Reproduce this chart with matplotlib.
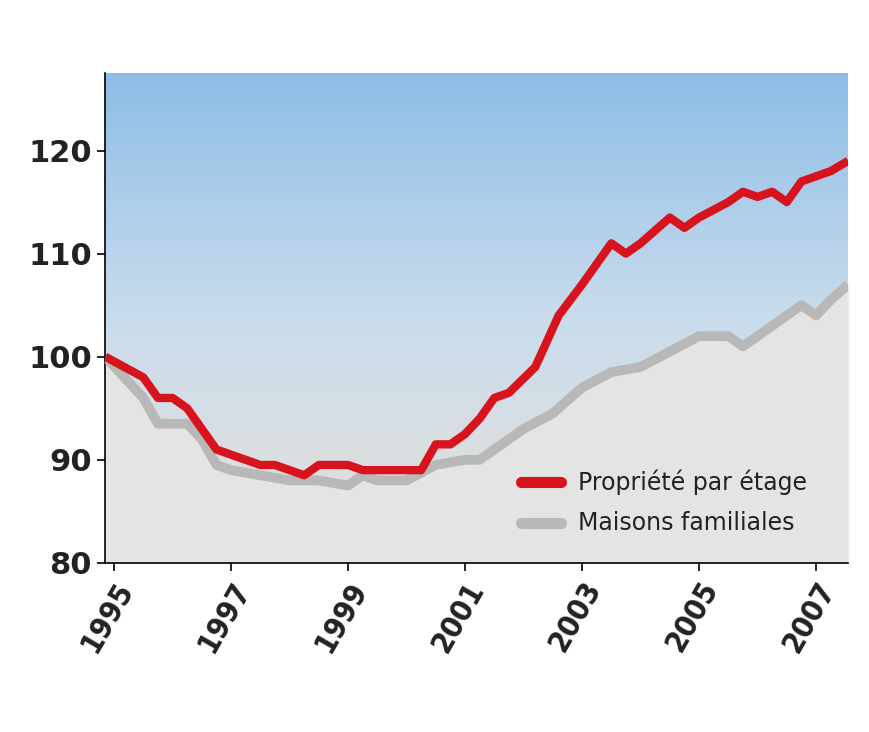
import numpy as np
import matplotlib
matplotlib.use("Agg")
import matplotlib.pyplot as plt

plt.rcParams['font.family'] = ['DejaVu Sans']

# quarterly index values, 1995 = 100
red_x = [1994.85, 1995.5, 1995.75, 1996.0, 1996.25, 1996.5, 1996.75, 1997.0, 1997.5, 1997.75,
         1998.0, 1998.25, 1998.5, 1998.75, 1999.0, 1999.25, 1999.5, 1999.75, 2000.0, 2000.25,
         2000.5, 2000.75, 2001.0, 2001.25, 2001.5, 2001.75, 2002.2, 2002.6, 2003.0, 2003.5,
         2003.75, 2004.0, 2004.5, 2004.75, 2005.0, 2005.5, 2005.75, 2006.0, 2006.25, 2006.5,
         2006.75, 2007.0, 2007.25, 2007.55]
red_y = [100, 98, 96, 96, 95, 93, 91, 90.5, 89.5, 89.5,
         89, 88.5, 89.5, 89.5, 89.5, 89, 89, 89, 89, 89,
         91.5, 91.5, 92.5, 94, 96, 96.5, 99, 104, 107, 111,
         110, 111, 113.5, 112.5, 113.5, 115, 116, 115.5, 116, 115,
         117, 117.5, 118, 119]

gray_x = [1994.85, 1995.5, 1995.75, 1996.25, 1996.5, 1996.75, 1997.0, 1997.5, 1998.0, 1998.5,
          1999.0, 1999.25, 1999.5, 2000.0, 2000.5, 2001.0, 2001.25, 2001.5, 2002.0, 2002.5,
          2003.0, 2003.5, 2004.0, 2004.5, 2005.0, 2005.5, 2005.75, 2006.0, 2006.5, 2006.75,
          2007.0, 2007.25, 2007.55]
gray_y = [100, 96, 93.5, 93.5, 92, 89.5, 89, 88.5, 88, 88,
          87.5, 88.5, 88, 88, 89.5, 90, 90, 91, 93, 94.5,
          97, 98.5, 99, 100.5, 102, 102, 101, 102, 104, 105,
          104, 105.5, 107]

years = [1995, 1997, 1999, 2001, 2003, 2005, 2007]
yticks = [80, 90, 100, 110, 120]

fig = plt.figure(figsize=(8.7, 7.32), dpi=100)
ax = fig.add_axes([0.121, 0.231, 0.854, 0.669])
ax.set_xlim(1994.85, 2007.55)
ax.set_ylim(80, 127.5)

# sky gradient background (stands in for the photo)
grad = np.linspace(0, 1, 256).reshape(-1, 1)
sky = plt.cm.colors.LinearSegmentedColormap.from_list('sky', ['#e8e0d6', '#c9dcec', '#8ebde6'])
ax.imshow(grad, cmap=sky, aspect='auto', extent=[1994.85, 2007.55, 80, 127.5], origin='lower', zorder=0)

ax.fill_between(gray_x, 80, gray_y, color='#e4e4e4', lw=0, zorder=2)
ax.plot(gray_x, gray_y, color='#b8b8b8', lw=7, solid_capstyle='butt', zorder=3)
ax.plot(red_x, red_y, color='#d7141e', lw=6, solid_capstyle='butt', zorder=4)

ax.set_xticks(years)
ax.set_xticklabels([str(y) for y in years], rotation=60, ha='right', rotation_mode='anchor',
                   fontsize=22, fontweight='bold', fontstretch='condensed', color='#222222')
ax.set_yticks(yticks)
ax.set_yticklabels([str(v) for v in yticks], fontsize=22, fontweight='bold', color='#222222')
ax.tick_params(axis='both', length=6, width=1.2, direction='out')
for s in ['top', 'right']:
    ax.spines[s].set_visible(False)
ax.spines['left'].set_linewidth(1.2)
ax.spines['bottom'].set_linewidth(1.2)

ax.plot([2001.95, 2002.64], [87.8, 87.8], color='#d7141e', lw=8, solid_capstyle='round', zorder=5)
ax.text(2002.93, 87.8, 'Propriété par étage', fontsize=17, va='center', color='#222222', zorder=5)
ax.plot([2001.95, 2002.64], [83.9, 83.9], color='#b8b8b8', lw=8, solid_capstyle='round', zorder=5)
ax.text(2002.93, 83.9, 'Maisons familiales', fontsize=17, va='center', color='#222222', zorder=5)

fig.savefig('out.png', dpi=100)
